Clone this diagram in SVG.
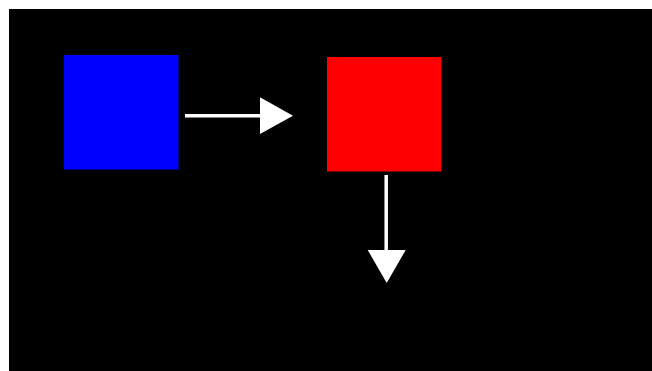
<svg xmlns="http://www.w3.org/2000/svg" width="652" height="371" viewBox="0 0 652 371">
<style>.conn{stroke:#fff;stroke-width:3.5;fill:none}.head{fill:#fff}</style>
<rect x="0" y="0" width="652" height="371" fill="#fff"/>
<rect x="9" y="9" width="643" height="362" fill="#000"/>
<g id="blue"><rect x="64" y="55" width="114.5" height="114.5" fill="#00f"/></g>
<g id="red"><rect x="327" y="57" width="114.5" height="114.5" fill="#f00"/></g>
<g id="connectors">
<line class="conn" x1="185" y1="115.7" x2="262" y2="115.7"/>
<polygon class="head" points="260,97.3 293,115.7 260,134"/>
<line class="conn" x1="386.2" y1="175" x2="386.2" y2="252"/>
<polygon class="head" points="367.7,250 405.7,250 386.7,283"/>
</g>
</svg>
